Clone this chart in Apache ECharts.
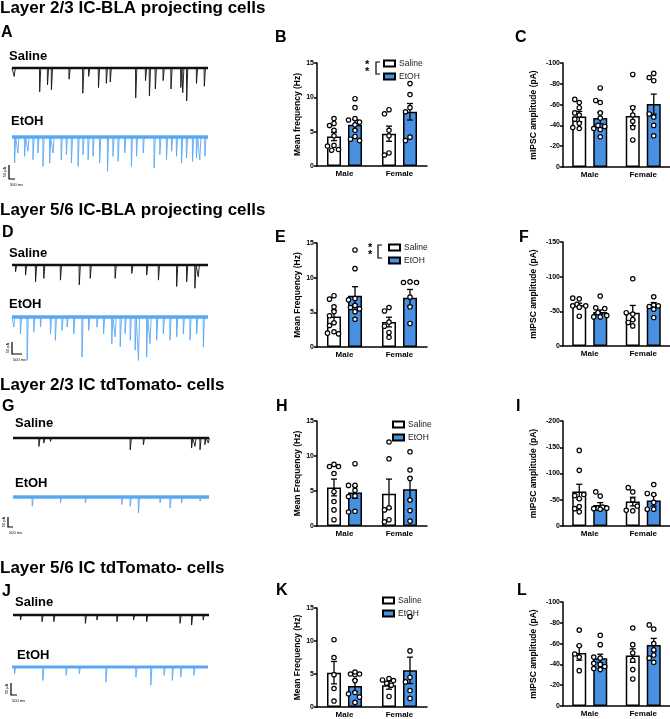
<!DOCTYPE html>
<html><head><meta charset="utf-8">
<script src="https://cdn.jsdelivr.net/npm/echarts@6.0.0/dist/echarts.min.js"></script>
<style>html,body{margin:0;padding:0;background:#fff}#c{width:670px;height:719px}</style>
</head><body><div id="c"></div>
<script>
const FONT = '"Liberation Sans", Arial, sans-serif';
const categories = ['Male', 'Female'];
const groups = ['Saline', 'EtOH'];

// ---- Panel B: Layer 2/3 IC-BLA, mean frequency (Hz) ----
const B_sal_mean = [4.3, 4.7];
const B_eth_mean = [6.0, 7.9];
const B_sal_sem = [0.6, 1.1];
const B_eth_sem = [0.75, 1.2];
const B_sal_pts = [[6.9, 6.2, 5.9, 5.2, 4.4, 3.0, 2.3, 2.4, 2.9], [8.2, 7.6, 5.2, 4.4, 1.9, 1.6]];
const B_eth_pts = [[9.8, 8.5, 6.9, 6.7, 6.4, 6.0, 5.2, 4.3, 3.9, 3.7], [12.0, 10.4, 8.5, 7.9, 4.2, 3.7]];
// ---- Panel C: amplitude (pA) ----
const C_sal_mean = [-48.5, -49];
const C_eth_mean = [-47, -60.5];
const C_sal_sem = [5, 9.3];
const C_eth_sem = [5.5, 9.6];
const C_sal_pts = [[-65, -62, -57, -52, -50, -46, -42, -38, -37], [-89, -57, -50, -44, -38, -26]];
const C_eth_pts = [[-76, -64, -62, -52, -47, -40, -39, -37, -36, -29], [-90, -86, -83, -51, -48, -40, -30]];
// ---- Panel E ----
const E_sal_mean = [4.4, 3.6];
const E_eth_mean = [7.4, 7.1];
const E_sal_sem = [0.9, 0.7];
const E_eth_sem = [1.3, 1.2];
const E_sal_pts = [[7.4, 6.9, 5.8, 5.1, 4.5, 3.5, 3.1, 2.2, 2.0, 1.9], [5.7, 5.2, 3.6, 3.0, 2.1, 1.4]];
const E_eth_pts = [[14.0, 11.3, 7.0, 6.8, 6.0, 5.7, 5.5, 5.1, 4.0], [9.3, 9.3, 9.4, 7.2, 5.8, 3.4]];
// ---- Panel F ----
const F_sal_mean = [-58.7, -48];
const F_eth_mean = [-49, -57.7];
const F_sal_sem = [3, 10.5];
const F_eth_sem = [3, 5];
const F_sal_pts = [[-69, -68, -60, -58, -58, -56, -43], [-97, -48, -46, -38, -34, -29]];
const F_eth_pts = [[-72, -55, -54, -48, -44, -42, -42], [-71, -59, -58, -57, -53, -41]];
// ---- Panel H ----
const H_sal_mean = [5.5, 4.6];
const H_eth_mean = [4.8, 5.25];
const H_sal_sem = [1.2, 2.1];
const H_eth_sem = [0.85, 1.6];
const H_sal_pts = [[8.8, 8.5, 8.5, 7.5, 4.9, 3.5, 2.3, 0.9], [12.0, 9.6, 2.6, 2.3, 0.9, 0.6]];
const H_eth_pts = [[8.9, 5.8, 5.8, 5.1, 4.3, 4.2, 2.1, 2.0], [10.6, 8.0, 6.8, 3.7, 2.2, 0.7]];
// ---- Panel I ----
const I_sal_mean = [-65.5, -46.5];
const I_eth_mean = [-40, -48.5];
const I_sal_sem = [14, 8.3];
const I_eth_sem = [4.5, 10.5];
const I_sal_pts = [[-144, -106, -60, -58, -52, -37, -33, -27], [-73, -65, -50, -38, -30, -29]];
const I_eth_pts = [[-65, -57, -36, -34, -34, -33, -32], [-79, -62, -60, -45, -32, -32]];
// ---- Panel K ----
const K_sal_mean = [5.2, 3.3];
const K_eth_mean = [3.2, 5.55];
const K_sal_sem = [1.7, 0.6];
const K_eth_sem = [0.9, 2.0];
const K_sal_pts = [[10.2, 7.5, 4.9, 2.8, 0.9], [4.3, 4.0, 4.1, 3.3, 3.6, 1.6]];
const K_eth_pts = [[5.0, 4.9, 5.0, 5.3, 4.0, 2.2, 2.0, 1.5, 0.7], [13.7, 8.5, 4.5, 3.8, 2.5, 1.3]];
// ---- Panel L ----
const L_sal_mean = [-51, -48.5];
const L_eth_mean = [-45.8, -58.7];
const L_sal_sem = [7, 6.5];
const L_eth_sem = [4, 6.3];
const L_sal_pts = [[-73, -58, -50, -47, -34], [-75, -59, -51, -44, -35, -26]];
const L_eth_pts = [[-68, -59, -47, -46, -41, -40, -38, -36, -35], [-78, -74, -60, -54, -49, -46, -42]];

// ---- Example traces: events [time % of sweep, amplitude pA] ----
const A_sal_events = [[1,30],[14,85],[18,60],[20,78],[29,40],[36,90],[39,30],[44,70],[48,55],[50,50],[63,107],[68,45],[70,100],[73,75],[77,45],[81,75],[86,70],[87,88],[89,118],[94,55],[98,65]];
const A_eth_events = [[1.2,93],[2.9,57],[6.3,69],[8.0,51],[10.6,81],[13.1,57],[15.7,105],[19.1,93],[20.8,57],[25.0,81],[27.6,63],[30.2,93],[33.6,105],[36.1,63],[38.7,81],[41.2,69],[44.6,93],[48.6,123],[51.4,69],[54.0,87],[57.4,57],[60.8,105],[63.4,69],[66.8,57],[72.4,111],[75.3,63],[78.7,81],[81.3,51],[83.8,69],[86.4,93],[88.9,75],[92.0,87],[94.0,75],[95.7,81],[98.3,69]];
const D_sal_events = [[1.7,24],[6.8,36],[11.9,60],[16.1,48],[24.6,54],[34.2,71],[39.8,48],[52.5,48],[61.0,30],[68.6,36],[74.6,54],[83.9,77],[89.0,60],[93.2,83],[94.9,42]];
const D_eth_events = [[0.8,36],[4.2,60],[7.6,155],[11.0,54],[14.4,36],[19.5,60],[22.0,83],[25.4,48],[28.0,36],[31.4,60],[35.6,143],[39.0,48],[43.2,36],[46.6,60],[50.8,95],[52.5,71],[55.1,107],[57.6,60],[60.2,83],[62.7,119],[64.4,155],[68.6,143],[70.3,95],[73.7,83],[77.1,60],[80.5,83],[83.9,71],[87.3,60],[90.7,83],[94.1,60],[97.5,107]];
const G_sal_events = [[13.1,30],[15.6,18],[19.0,12],[59.7,42],[66.4,24],[91.0,36],[92.7,30],[95.3,42],[97.8,24],[99.5,18]];
const G_eth_events = [[9.7,33],[24.1,21],[36.8,21],[55.4,27],[59.7,33],[63.9,57],[74.9,21],[80.0,39],[85.9,21],[95.3,15]];
const J_sal_events = [[3.7,18],[14.7,24],[20.7,24],[36.8,30],[42.7,18],[52.9,24],[61.4,18],[68.1,24],[85.1,30],[91.0,36],[96.9,18]];
const J_eth_events = [[1.2,24],[15.6,48],[27.5,30],[34.2,24],[47.8,54],[63.1,36],[70.7,65],[77.5,30],[81.7,48],[86.0,36],[92.7,30]];

const sectionTitles = ['Layer 2/3 IC-BLA projecting cells', 'Layer 5/6 IC-BLA projecting cells', 'Layer 2/3 IC tdTomato- cells', 'Layer 5/6 IC tdTomato- cells'];

const BLUE = '#4A90E2';
const TRACE_BLUE = '#5AA8F2';
const grids = [], xAxes = [], yAxes = [], series = [], legends = [], graphics = [];

function beeswarm(values, ppu) {
  const order = values.map((v, i) => i).sort((a, b) => values[b] - values[a]);
  const placed = [], off = new Array(values.length).fill(0);
  const cands = [0, -4.5, 4.5, -2.3, 2.3, -6.5, 6.5];
  for (const i of order) {
    const y = values[i] * ppu;
    let chosen = 0, best = -1;
    for (const c of cands) {
      let minD = Infinity;
      for (const p of placed) { const d = Math.hypot(p[0] - c, p[1] - y); if (d < minD) minD = d; }
      if (minD >= 4.8) { chosen = c; best = Infinity; break; }
      if (minD > best) { best = minD; chosen = c; }
    }
    off[i] = chosen; placed.push([chosen, y]);
  }
  return off;
}

function addBarPanel(p) {
  const gi = grids.length;
  grids.push({ left: p.left, top: p.top, width: p.width, height: p.height });
  xAxes.push({
    type: 'category', gridIndex: gi, data: categories,
    axisLine: { lineStyle: { color: '#000', width: 1.5 } },
    axisTick: { alignWithLabel: true, length: 3, lineStyle: { color: '#000', width: 1.5 } },
    axisLabel: { color: '#000', fontWeight: 'bold', fontSize: 8, fontFamily: FONT, margin: 4 }
  });
  yAxes.push({
    type: 'value', gridIndex: gi, min: p.min, max: p.max, interval: p.interval, inverse: p.min < 0,
    name: p.name, nameLocation: 'middle', nameRotate: 90, nameGap: p.nameGap,
    nameTextStyle: { color: '#000', fontWeight: 'bold', fontSize: 8.5, fontFamily: FONT },
    axisLine: { show: true, lineStyle: { color: '#000', width: 1.5 } },
    axisTick: { show: true, length: 3, lineStyle: { color: '#000', width: 1.5 } },
    axisLabel: { color: '#000', fontWeight: 'bold', fontSize: 7, fontFamily: FONT, margin: 3 },
    splitLine: { show: false }
  });
  const ppu = p.height / (p.max - p.min);
  const defs = [[groups[0], p.sal, '#ffffff', -10.5], [groups[1], p.eth, BLUE, 10.5]];
  defs.forEach(([name, d, color]) => {
    series.push({ type: 'bar', name, xAxisIndex: gi, yAxisIndex: gi, data: d[0], barWidth: 14, barGap: '50%',
      itemStyle: { color, borderColor: '#000', borderWidth: 1.5 }, silent: true });
  });
  defs.forEach(([name, d, color, off]) => {
    series.push({ type: 'custom', name: name + ' SEM', xAxisIndex: gi, yAxisIndex: gi, silent: true, z: 3,
      data: d[0].map((m, i) => [i, m, d[1][i]]),
      renderItem: (params, api) => {
        const c = api.value(0), m = api.value(1), s = api.value(2);
        const x = api.coord([c, 0])[0] + off;
        const y1 = api.coord([c, m + s])[1], y2 = api.coord([c, m - s])[1];
        const st = { stroke: '#000', lineWidth: 1.3 };
        return { type: 'group', children: [
          { type: 'line', shape: { x1: x, y1: y1, x2: x, y2: y2 }, style: st },
          { type: 'line', shape: { x1: x - 3, y1: y1, x2: x + 3, y2: y1 }, style: st },
          { type: 'line', shape: { x1: x - 3, y1: y2, x2: x + 3, y2: y2 }, style: st }
        ] };
      } });
    const pts = [];
    d[2].forEach((vals, ci) => { const jit = beeswarm(vals, ppu); vals.forEach((v, k) => pts.push([ci, v, jit[k]])); });
    series.push({ type: 'custom', name: name + ' cells', xAxisIndex: gi, yAxisIndex: gi, silent: true, z: 4,
      data: pts,
      renderItem: (params, api) => {
        const pt = api.coord([api.value(0), api.value(1)]);
        return { type: 'circle', shape: { cx: pt[0] + off + api.value(2), cy: pt[1], r: 2.2 },
          style: { fill: '#fff', stroke: '#000', lineWidth: 1.2 } };
      } });
  });
  if (p.legend) {
    legends.push({ left: p.legend[0], top: p.legend[1], orient: 'vertical', icon: 'rect', itemWidth: 11, itemHeight: 6,
      itemGap: 4, padding: 0, selectedMode: false, data: groups,
      textStyle: { fontSize: 8.5, color: '#222', fontFamily: FONT, padding: [0, 0, 0, -1] } });
  }
}

const FREQ = 'Mean Frequency (Hz)';
const AMP = 'mIPSC amplitude (pA)';
addBarPanel({ left: 317, top: 63, width: 110, height: 103, min: 0, max: 15, interval: 5, name: 'Mean frequency (Hz)', nameGap: 13,
  sal: [B_sal_mean, B_sal_sem, B_sal_pts], eth: [B_eth_mean, B_eth_sem, B_eth_pts], legend: [383, 59] });
addBarPanel({ left: 563, top: 63, width: 110, height: 104, min: -100, max: 0, interval: 20, name: AMP, nameGap: 25,
  sal: [C_sal_mean, C_sal_sem, C_sal_pts], eth: [C_eth_mean, C_eth_sem, C_eth_pts] });
addBarPanel({ left: 317, top: 243, width: 110, height: 104, min: 0, max: 15, interval: 5, name: FREQ, nameGap: 13,
  sal: [E_sal_mean, E_sal_sem, E_sal_pts], eth: [E_eth_mean, E_eth_sem, E_eth_pts], legend: [388, 243] });
addBarPanel({ left: 563, top: 242, width: 110, height: 104, min: -150, max: 0, interval: 50, name: AMP, nameGap: 25,
  sal: [F_sal_mean, F_sal_sem, F_sal_pts], eth: [F_eth_mean, F_eth_sem, F_eth_pts] });
addBarPanel({ left: 317, top: 421, width: 110, height: 105, min: 0, max: 15, interval: 5, name: FREQ, nameGap: 13,
  sal: [H_sal_mean, H_sal_sem, H_sal_pts], eth: [H_eth_mean, H_eth_sem, H_eth_pts], legend: [392, 420] });
addBarPanel({ left: 563, top: 421, width: 110, height: 105, min: -200, max: 0, interval: 50, name: AMP, nameGap: 25,
  sal: [I_sal_mean, I_sal_sem, I_sal_pts], eth: [I_eth_mean, I_eth_sem, I_eth_pts] });
addBarPanel({ left: 317, top: 608, width: 110, height: 99, min: 0, max: 15, interval: 5, name: FREQ, nameGap: 13,
  sal: [K_sal_mean, K_sal_sem, K_sal_pts], eth: [K_eth_mean, K_eth_sem, K_eth_pts], legend: [382, 596] });
addBarPanel({ left: 563, top: 602, width: 110, height: 104, min: -100, max: 0, interval: 20, name: AMP, nameGap: 25,
  sal: [L_sal_mean, L_sal_sem, L_sal_pts], eth: [L_eth_mean, L_eth_sem, L_eth_pts] });

// ---- traces ----
function addTrace(events, color, baseY, left, width, baseW) {
  const gi = grids.length;
  grids.push({ left, top: baseY - 6, width, height: 52.2 });
  xAxes.push({ type: 'value', gridIndex: gi, min: 0, max: 100, show: false });
  yAxes.push({ type: 'value', gridIndex: gi, min: -165, max: 21.4, show: false });
  series.push({ type: 'line', xAxisIndex: gi, yAxisIndex: gi, data: [[0, 0], [100, 0]], symbol: 'none', silent: true,
    lineStyle: { color, width: baseW } });
  const d = [[0, 0]];
  events.forEach(([t, a]) => { d.push([t, 0], [t + 0.12, -a], [t + 0.7, 0]); });
  d.push([100, 0]);
  series.push({ type: 'line', xAxisIndex: gi, yAxisIndex: gi, data: d, symbol: 'none', silent: true,
    lineStyle: { color, width: 0.9 } });
}
addTrace(A_sal_events, '#111', 68, 12, 196, 2.6);
addTrace(A_eth_events, TRACE_BLUE, 137, 12, 196, 3.6);
addTrace(D_sal_events, '#111', 265, 12, 196, 2.6);
addTrace(D_eth_events, TRACE_BLUE, 317, 12, 196, 3.6);
addTrace(G_sal_events, '#111', 438, 13, 196, 2.4);
addTrace(G_eth_events, TRACE_BLUE, 497, 13, 196, 3.4);
addTrace(J_sal_events, '#111', 615, 13, 196, 2.4);
addTrace(J_eth_events, TRACE_BLUE, 667, 12, 196, 3.2);

// ---- annotations ----
function txt(text, x, y, font, extra) {
  graphics.push(Object.assign({ type: 'text', x, y, silent: true,
    style: { text, font, fill: '#000', verticalAlign: 'middle', align: 'left' } }, extra || {}));
}
const TF = 'bold 17px ' + FONT;
[[0, 8], [0, 210], [0, 385], [0, 568]].forEach(([x, y], i) => txt(sectionTitles[i], x, y, TF));
const LF = 'bold 16px ' + FONT;
[['A', 1, 33], ['B', 275, 38], ['C', 515, 38], ['D', 2, 233], ['E', 275, 238], ['F', 519, 238],
 ['G', 2, 407], ['H', 276, 407], ['I', 516, 407], ['J', 2, 592], ['K', 276, 591], ['L', 517, 591]]
  .forEach(([t, x, y]) => txt(t, x, y, LF));
const SF = 'bold 13px ' + FONT;
[['Saline', 9, 56], ['EtOH', 11, 121], ['Saline', 9, 253], ['EtOH', 9, 304],
 ['Saline', 15, 423], ['EtOH', 15, 483], ['Saline', 15, 602], ['EtOH', 17, 655]]
  .forEach(([t, x, y]) => txt(t, x, y, SF));
// scale bars
[[9, 165, 179, 15], [12, 342, 354, 22], [8, 517, 527, 13], [11, 683, 695, 17]].forEach(([x, yt, yb, x2]) => {
  graphics.push({ type: 'polyline', silent: true, shape: { points: [[x, yt], [x, yb], [x2, yb]] },
    style: { stroke: '#000', lineWidth: 1.2, fill: null } });
  graphics.push({ type: 'text', x: x - 4, y: (yt + yb) / 2, rotation: Math.PI / 2, silent: true,
    style: { text: '50 pA', font: '4px ' + FONT, fill: '#000', align: 'center', verticalAlign: 'middle' } });
  graphics.push({ type: 'text', x: x + 1, y: yb + 6, silent: true,
    style: { text: '500 ms', font: '4px ' + FONT, fill: '#000', align: 'left', verticalAlign: 'middle' } });
});
// significance brackets
[[367, 62, 376, 74], [370, 245, 378, 258]].forEach(([sx, y0, bx, y1]) => {
  txt('*', sx - 2, y0 + 3, 'bold 11px ' + FONT);
  txt('*', sx - 2, y0 + 10, 'bold 11px ' + FONT);
  graphics.push({ type: 'polyline', silent: true, shape: { points: [[bx + 4, y0], [bx, y0], [bx, y1], [bx + 4, y1]] },
    style: { stroke: '#000', lineWidth: 1.2, fill: null } });
});

const chart = echarts.init(document.getElementById('c'), null, { renderer: 'canvas' });
chart.setOption({
  animation: false,
  backgroundColor: '#fff',
  grid: grids, xAxis: xAxes, yAxis: yAxes, series, legend: legends, graphic: graphics
});
</script></body></html>
